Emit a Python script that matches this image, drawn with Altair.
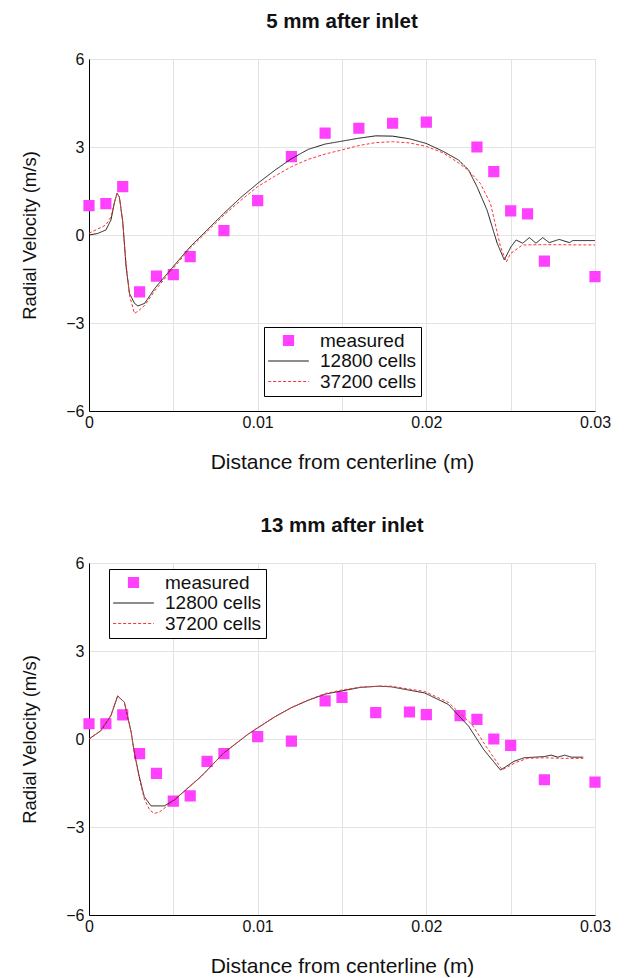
import altair as alt
import pandas as pd

FONT = "Liberation Sans"

# ---------------- data: 5 mm after inlet ----------------
T_MX = [0, 0.001, 0.002, 0.003, 0.004, 0.005, 0.006, 0.008, 0.010, 0.012, 0.014, 0.016,
        0.018, 0.020, 0.023, 0.024, 0.025, 0.026, 0.027, 0.030]
T_MV = [1.0, 1.07, 1.65, -1.94, -1.40, -1.35, -0.74, 0.15, 1.17, 2.67, 3.47, 3.64,
        3.81, 3.85, 3.0, 2.16, 0.82, 0.72, -0.89, -1.42]

T_BX = [0, 0.0005, 0.001, 0.0013, 0.0015, 0.00166, 0.0018, 0.002, 0.0022, 0.0024, 0.0027,
        0.0029, 0.0033, 0.0039, 0.0049, 0.006, 0.007, 0.008, 0.009, 0.010, 0.011, 0.012,
        0.013, 0.014, 0.015, 0.016, 0.017, 0.018, 0.019, 0.020, 0.021, 0.0219, 0.0225,
        0.023, 0.0236, 0.0242, 0.02462, 0.02502, 0.02532, 0.02571, 0.02611, 0.0265,
        0.0269, 0.02729, 0.02788, 0.02848, 0.02868, 0.030]
T_BV = [0.0, 0.05, 0.17, 0.51, 1.08, 1.42, 1.3, 0.45, -1.08, -1.99, -2.33, -2.42, -2.33,
        -1.82, -1.14, -0.4, 0.17, 0.74, 1.28, 1.76, 2.2, 2.6, 2.92, 3.1, 3.2, 3.3, 3.38,
        3.37, 3.28, 3.12, 2.85, 2.56, 2.22, 1.65, 0.85, -0.28, -0.85, -0.4, -0.17, -0.28,
        -0.09, -0.28, -0.09, -0.26, -0.15, -0.26, -0.19, -0.19]

T_RX = [0, 0.0005, 0.001, 0.0013, 0.0015, 0.00166, 0.0018, 0.002, 0.0022, 0.0024, 0.00269,
        0.0029, 0.0033, 0.0039, 0.0049, 0.006, 0.007, 0.008, 0.009, 0.010, 0.011, 0.012,
        0.013, 0.014, 0.015, 0.016, 0.017, 0.018, 0.019, 0.020, 0.021, 0.0219, 0.0225,
        0.0232, 0.0238, 0.0244, 0.02474, 0.025, 0.0257, 0.027, 0.030]
T_RV = [0.06, 0.2, 0.34, 0.62, 1.1, 1.42, 1.3, 0.45, -1.0, -2.05, -2.67, -2.6, -2.4, -1.9,
        -1.2, -0.45, 0.12, 0.68, 1.18, 1.65, 2.0, 2.33, 2.58, 2.76, 2.9, 3.05, 3.15, 3.18,
        3.14, 3.02, 2.8, 2.46, 2.2, 1.76, 1.08, -0.4, -0.92, -0.63, -0.34, -0.33, -0.34]

# ---------------- data: 13 mm after inlet ----------------
B_MX = [0, 0.001, 0.002, 0.003, 0.004, 0.005, 0.006, 0.007, 0.008, 0.010, 0.012, 0.014,
        0.015, 0.017, 0.019, 0.020, 0.022, 0.023, 0.024, 0.025, 0.027, 0.030]
B_MV = [0.52, 0.52, 0.82, -0.5, -1.17, -2.12, -1.94, -0.76, -0.5, 0.08, -0.07, 1.3,
        1.42, 0.9, 0.92, 0.83, 0.8, 0.67, 0.0, -0.22, -1.39, -1.47]

B_BX = [0, 0.0007, 0.0013, 0.0017, 0.0021, 0.0025, 0.00269, 0.00298, 0.00328, 0.00368,
        0.0041, 0.00447, 0.00506, 0.00664, 0.008, 0.0094, 0.010, 0.011, 0.012, 0.013,
        0.014, 0.015, 0.0161, 0.0172, 0.0179, 0.0199, 0.0213, 0.0225, 0.0234, 0.0244,
        0.0252, 0.0258, 0.0264, 0.0270, 0.0274, 0.0278, 0.0282, 0.0286, 0.0293]
B_BV = [0, 0.28, 0.8, 1.47, 1.25, 0.23, -0.47, -1.28, -1.97, -2.28, -2.28, -2.28, -2.08,
        -1.28, -0.47, 0.15, 0.38, 0.75, 1.07, 1.32, 1.53, 1.64, 1.76, 1.8, 1.78, 1.57,
        1.18, 0.44, -0.36, -1.06, -0.76, -0.64, -0.62, -0.6, -0.55, -0.62, -0.55, -0.62,
        -0.62]

B_RX = [0, 0.0007, 0.0013, 0.0017, 0.0021, 0.0025, 0.00269, 0.00298, 0.00328, 0.0036,
        0.00387, 0.0042, 0.0046, 0.0052, 0.00664, 0.008, 0.0094, 0.010, 0.011, 0.012,
        0.013, 0.014, 0.015, 0.0161, 0.0172, 0.0179, 0.0199, 0.0213, 0.0227, 0.0236,
        0.0245, 0.0253, 0.026, 0.027, 0.028, 0.0293]
B_RV = [0, 0.28, 0.8, 1.47, 1.25, 0.23, -0.5, -1.35, -2.05, -2.42, -2.54, -2.48, -2.3,
        -2.0, -1.28, -0.47, 0.15, 0.38, 0.75, 1.07, 1.33, 1.55, 1.67, 1.77, 1.8, 1.8,
        1.62, 1.25, 0.5, -0.3, -1.05, -0.8, -0.66, -0.64, -0.66, -0.66]

SERIES = ["measured", "12800 cells", "37200 cells"]
COLORS = ["#ff40ff", "#1a1a1a", "#ff3333"]
# a filled square drawn as nested stroked squares, and a long horizontal stroke
SQUARE = ("M-0.909,-0.909H0.909V0.909H-0.909Z M-0.727,-0.727H0.727V0.727H-0.727Z "
          "M-0.545,-0.545H0.545V0.545H-0.545Z M-0.364,-0.364H0.364V0.364H-0.364Z "
          "M-0.182,-0.182H0.182V0.182H-0.182Z M-0.05,-0.05H0.05V0.05H-0.05Z")
STROKE = "M-3.7,0H3.7"
SHAPES = [SQUARE, STROKE, STROKE]
DASHES = [[1, 0], [1, 0], [3, 2]]
X_GRID = [0, 0.005, 0.01, 0.015, 0.02, 0.025, 0.03]
Y_TICKS = [-6, -3, 0, 3, 6]


def panel(title, mx, mv, bx, bv, rx, rv, lx, ly):
    meas = pd.DataFrame({"x": mx, "v": mv, "series": "measured"})
    curves = pd.concat([
        pd.DataFrame({"x": bx, "v": bv, "series": "12800 cells"}),
        pd.DataFrame({"x": rx, "v": rv, "series": "37200 cells"}),
    ])
    leg = alt.Legend(
        title=None, orient="none", legendX=lx, legendY=ly,
        fillColor="white", strokeColor="black", padding=4, cornerRadius=0,
        labelFont=FONT, labelFontSize=19, labelColor="#111", labelLimit=0,
        labelOffset=22, symbolOffset=11, symbolSize=121, symbolStrokeWidth=1.2,
        rowPadding=0.5,
    )
    xenc = alt.X(
        "x:Q", scale=alt.Scale(domain=[0, 0.03], nice=False, zero=False),
        axis=alt.Axis(values=X_GRID, format="~g",
                      labelExpr="round(datum.value*1000) % 10 == 0 ? datum.label : ''",
                      title="Distance from centerline (m)", labelFlush=False,
                      titleFontSize=21),
    )
    yenc = alt.Y(
        "v:Q", scale=alt.Scale(domain=[-6, 6], nice=False),
        axis=alt.Axis(values=Y_TICKS, title="Radial Velocity (m/s)", titleFontSize=18.5),
    )
    color = alt.Color("series:N", scale=alt.Scale(domain=SERIES, range=COLORS), legend=leg)
    shape = alt.Shape("series:N", scale=alt.Scale(domain=SERIES, range=SHAPES), legend=leg)
    dash = alt.StrokeDash("series:N", scale=alt.Scale(domain=SERIES, range=DASHES), legend=leg)

    pts = alt.Chart(meas).mark_point(filled=False, size=121, opacity=1, strokeWidth=1.2).encode(
        x=xenc, y=yenc, color=color, shape=shape)
    lines = alt.Chart(curves).mark_line(opacity=1, strokeWidth=1).encode(
        x=xenc, y=yenc, color=color, strokeDash=dash)
    return alt.layer(pts, lines).properties(
        width=506, height=352,
        title=alt.TitleParams(title, font=FONT, fontSize=20.5, fontWeight="bold",
                              color="#111", offset=19, anchor="middle"),
    )


top = panel("5 mm after inlet", T_MX, T_MV, T_BX, T_BV, T_RX, T_RV, 175, 268)
bottom = panel("13 mm after inlet", B_MX, B_MV, B_BX, B_BV, B_RX, B_RV, 20, 6)

chart = alt.vconcat(top, bottom, spacing=42).resolve_scale(
    color="independent", shape="independent", strokeDash="independent",
).properties(
    padding={"left": 20, "top": 11, "right": 10, "bottom": 0},
    background="white",
).configure_view(
    stroke="#888", strokeWidth=1,
).configure_axis(
    labelFont=FONT, labelFontSize=16, labelColor="#111",
    titleFont=FONT, titleFontWeight="normal", titleColor="#111",
    ticks=False, grid=True, gridColor="#e3e3e3", gridWidth=1,
    domainColor="#000", domainWidth=1,
).configure_axisY(
    titlePadding=26, labelPadding=5,
).configure_axisX(
    titlePadding=21, labelPadding=3,
)

chart.save("out.html", embed_options={"renderer": "svg", "actions": False})
